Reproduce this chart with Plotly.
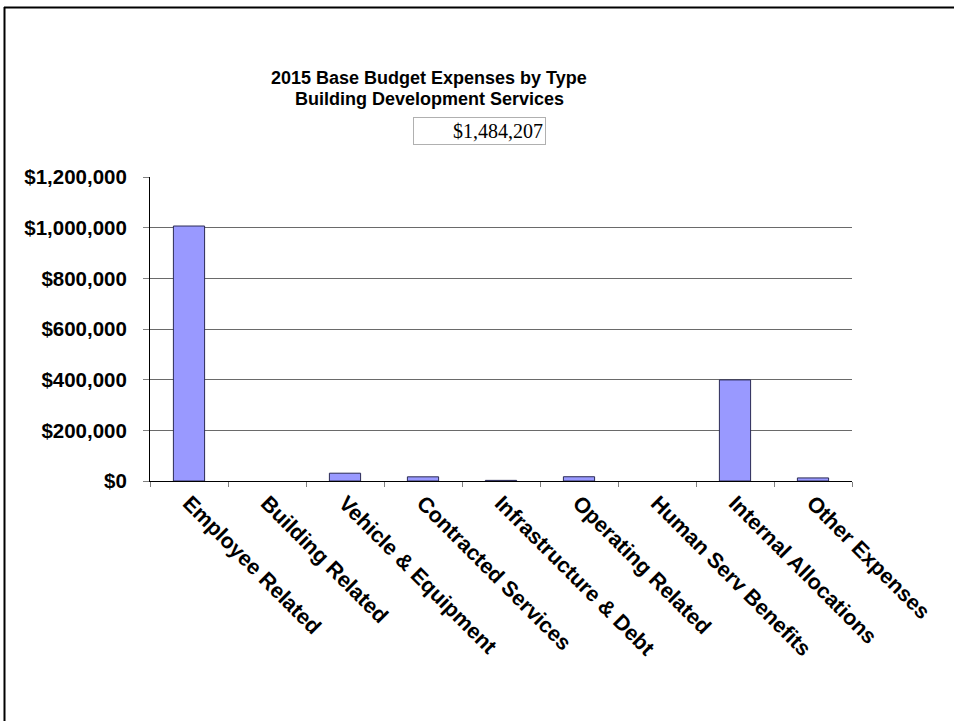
import plotly.graph_objects as go

# Expense categories and 2015 base budget amounts (USD)
categories = [
    "Employee Related", "Building Related", "Vehicle & Equipment",
    "Contracted Services", "Infrastructure & Debt", "Operating Related",
    "Human Serv Benefits", "Internal Allocations", "Other Expenses",
]
amounts = [1006500, 0, 30800, 16500, 2500, 16800, 0, 399000, 12107]
y_ticks = [0, 200000, 400000, 600000, 800000, 1000000, 1200000]
y_tick_labels = ["$" + format(v, ",") for v in y_ticks]

title_line1 = "2015 Base Budget Expenses by Type"
title_line2 = "Building Development Services"
total_text = "$" + format(sum(amounts), ",")

W, H = 954, 721
ML, MR, MT, MB = 150, 102, 177, 240
PW, PH = W - ML - MR, H - MT - MB


def px_x(px):
    return (px - ML) / PW


def px_y(py):
    return (H - MB - py) / PH


SANS = "Liberation Sans, Arial, sans-serif"
SERIF = "Liberation Serif, Times New Roman, serif"

# empty categories get no outline so nothing is drawn for them
outline_widths = [1 if v > 0 else 0 for v in amounts]

fig = go.Figure(
    go.Bar(
        x=categories,
        y=amounts,
        marker=dict(color="#9999FF", line=dict(color="#2b2b55", width=outline_widths)),
        hoverinfo="x+y",
    )
)

fig.update_layout(
    width=W,
    height=H,
    margin=dict(l=ML, r=MR, t=MT, b=MB, pad=0),
    paper_bgcolor="white",
    plot_bgcolor="white",
    bargap=0.6,
    showlegend=False,
    font=dict(family=SANS, color="black"),
)

fig.update_yaxes(
    range=[0, 1200000],
    tickvals=y_ticks,
    ticktext=["<b>%s</b>" % t for t in y_tick_labels],
    tickfont=dict(size=20.5, family=SANS, color="black"),
    showgrid=True,
    gridcolor="#6a6a6a",
    gridwidth=1,
    showline=True,
    linecolor="black",
    linewidth=1,
    ticks="outside",
    ticklen=6,
    tickcolor="#808080",
    ticklabelstandoff=12,
    zeroline=False,
)

fig.update_xaxes(
    tickvals=categories,
    ticktext=["<b>%s</b>" % c for c in categories],
    tickangle=45,
    tickfont=dict(size=21.5, family=SANS, color="black"),
    showline=True,
    linecolor="black",
    linewidth=1,
    ticks="outside",
    tickson="boundaries",
    ticklen=5,
    tickcolor="#808080",
    showgrid=False,
)

# Chart frame: top and left edges
frame = dict(color="black", width=2)
fig.add_shape(type="line", xref="paper", yref="paper",
              x0=px_x(4), x1=px_x(W), y0=px_y(7.5), y1=px_y(7.5), line=frame)
fig.add_shape(type="line", xref="paper", yref="paper",
              x0=px_x(4.5), x1=px_x(4.5), y0=px_y(7), y1=px_y(H), line=frame)

# Two-line title
fig.add_annotation(
    text="<b>%s</b>" % title_line1, xref="paper", yref="paper",
    x=px_x(429), y=px_y(77.5), xanchor="center", yanchor="middle",
    showarrow=False, font=dict(size=18, family=SANS, color="black"),
)
fig.add_annotation(
    text="<b>%s</b>" % title_line2, xref="paper", yref="paper",
    x=px_x(429), y=px_y(98.5), xanchor="center", yanchor="middle",
    showarrow=False, font=dict(size=18, family=SANS, color="black"),
)

# Total budget box
fig.add_annotation(
    text=total_text, xref="paper", yref="paper",
    x=px_x(479), y=px_y(131), xanchor="center", yanchor="middle",
    showarrow=False, width=127, height=22, align="right",
    bordercolor="#b0b0b0", borderwidth=1, borderpad=2,
    font=dict(size=20, family=SERIF, color="black"),
)

fig.write_html("out.html")
